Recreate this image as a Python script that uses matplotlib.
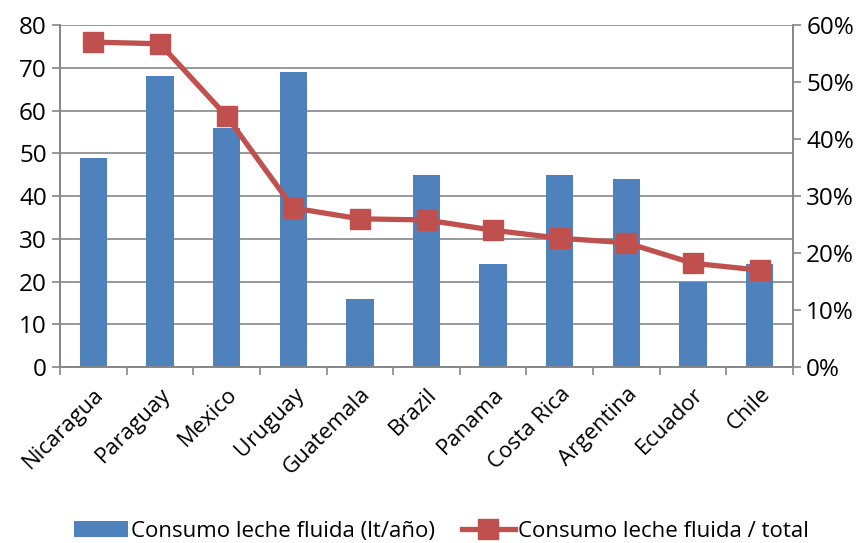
from matplotlib import pyplot as plt
import numpy as np

# Consumo de leche fluida por pais
paises = ["Nicaragua", "Paraguay", "Mexico", "Uruguay", "Guatemala", "Brazil",
          "Panama", "Costa Rica", "Argentina", "Ecuador", "Chile"]
consumo_lt = [49, 68, 56, 69, 16, 45, 24, 45, 44, 20, 24]
consumo_pct = [57.0, 56.7, 44.0, 27.9, 26.0, 25.8, 24.0, 22.6, 21.8, 18.2, 17.0]

plt.rcParams['font.family'] = ['Open Sans', 'DejaVu Sans']
grey = '#868686'
blue = '#4f81bd'
red = '#c0504d'

fig = plt.figure(figsize=(8.66, 5.43), dpi=100)
ax = fig.add_axes([0.0693, 0.324, 0.8464, 0.630])
x = np.arange(len(paises))

ax.bar(x, consumo_lt, width=0.41, color=blue, zorder=2,
       label="Consumo leche fluida (lt/año)")
ax.set_ylim(0, 80)
ax.set_xlim(-0.5, len(paises) - 0.5)
ax.set_yticks(range(0, 81, 10))
ax.yaxis.grid(True, color=grey, linewidth=1.2, zorder=0)
ax.set_axisbelow(True)

ax.set_xticks(np.arange(-0.5, len(paises), 1))
ax.set_xticklabels([])
ax.set_xticks(x, minor=True)
ax.set_xticklabels(paises, minor=True, rotation=45, ha='right',
                   rotation_mode='anchor', fontsize=16)
ax.tick_params(axis='x', which='minor', length=0, pad=12)
ax.tick_params(axis='x', which='major', length=6, color=grey, width=1.2)
ax.tick_params(axis='y', length=6, color=grey, width=1.2, labelsize=17.5)

ax2 = ax.twinx()
ax2.plot(x, consumo_pct, color=red, linewidth=3.8, marker='s', markersize=14,
         zorder=3, label="Consumo leche fluida / total")
ax2.set_ylim(0, 60)
ax2.set_yticks(range(0, 61, 10))
ax2.set_yticklabels([f"{v}%" for v in range(0, 61, 10)])
ax2.tick_params(axis='y', length=6, color=grey, width=1.2, labelsize=17.5)

for a in (ax, ax2):
    a.spines['top'].set_visible(False)
    for s in ('left', 'right', 'bottom'):
        a.spines[s].set_color(grey)
        a.spines[s].set_linewidth(1.2)

h1, l1 = ax.get_legend_handles_labels()
h2, l2 = ax2.get_legend_handles_labels()
fig.legend(h1 + h2, l1 + l2, loc='lower center', bbox_to_anchor=(0.51, -0.035),
           ncol=2, frameon=False, fontsize=16, handlelength=2.4,
           handletextpad=0.15, columnspacing=1.2)

fig.savefig("out.png", dpi=100)
